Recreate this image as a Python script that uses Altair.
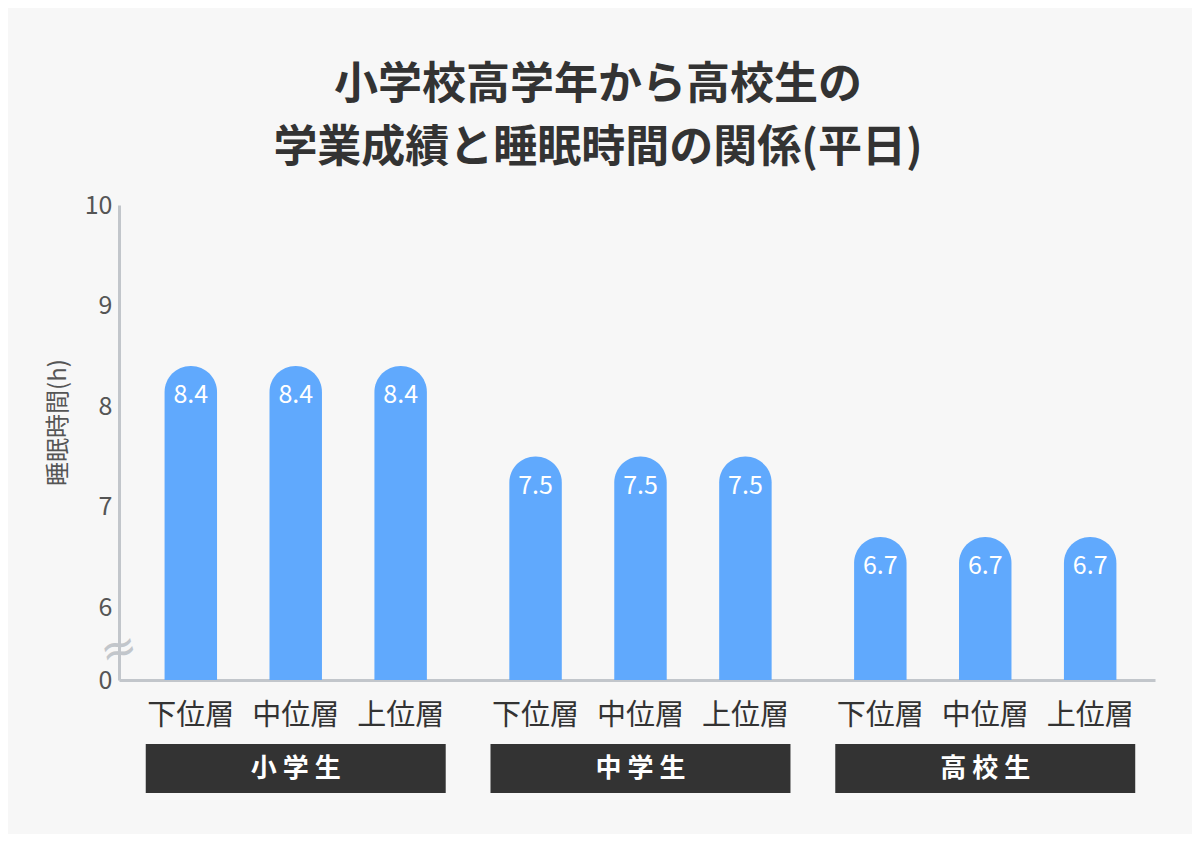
import altair as alt
import pandas as pd

groups = ["小学生", "中学生", "高校生"]
levels = ["下位層", "中位層", "上位層"]
values = [
    [8.4, 8.4, 8.4],
    [7.5, 7.5, 7.5],
    [6.7, 6.7, 6.7],
]
y_ticks = [10, 9, 8, 7, 6]
axis_floor = 5.28  # shown as "0" (broken axis)
break_pos = [5.58]

rows = []
for g, vals in zip(groups, values):
    for lv, v in zip(levels, vals):
        rows.append({"group": g, "level": lv, "value": v, "base": axis_floor})
df = pd.DataFrame(rows)
gdf = pd.DataFrame({"group": groups})
bdf = pd.DataFrame({"y": break_pos, "t": ["≈"]})

FONT = "Noto Sans CJK JP"
W, H = 1036, 475

xs = alt.Scale(domain=groups, paddingInner=0.087, paddingOuter=0.046, align=0.61)
xo = alt.Scale(domain=levels, paddingInner=0.5, paddingOuter=0.25)
ys = alt.Scale(domain=[axis_floor, 10], nice=False, zero=False)

x_enc = alt.X("group:N", scale=xs, sort=groups,
              axis=alt.Axis(labels=False, ticks=False, title=None,
                            domainColor="#c2c6cb", domainWidth=3))
y_axis = alt.Axis(values=[axis_floor] + y_ticks, ticks=False, grid=False,
                  labelExpr="datum.value < 5.5 ? '0' : format(datum.value, 'd')",
                  labelFont=FONT, labelFontSize=25, labelColor="#555555",
                  labelPadding=7, domainColor="#c2c6cb", domainWidth=3,
                  title="睡眠時間(h)", titleFont=FONT, titleFontSize=24,
                  titleFontWeight="normal", titleColor="#555555",
                  titleX=-61, titleY=217, titleAlign="center",
                  titleBaseline="middle", titleAngle=-90)

bars = alt.Chart(df).mark_bar(color="#60a9fd", cornerRadiusTopLeft=26,
                              cornerRadiusTopRight=26).encode(
    x=x_enc,
    xOffset=alt.XOffset("level:N", scale=xo, sort=levels),
    y=alt.Y("value:Q", scale=ys, axis=y_axis),
    y2="base:Q",
)

vlabels = alt.Chart(df).mark_text(color="white", font=FONT, fontSize=25,
                                  baseline="middle", dy=29).encode(
    x=x_enc,
    xOffset=alt.XOffset("level:N", scale=xo, sort=levels),
    y=alt.Y("value:Q", scale=ys),
    text=alt.Text("value:Q", format=".1f"),
)

lvl_labels = alt.Chart(df).mark_text(color="#333333", font=FONT, fontSize=29,
                                     baseline="middle").encode(
    x=x_enc,
    xOffset=alt.XOffset("level:N", scale=xo, sort=levels),
    y=alt.value(H + 36),
    text="level:N",
)

boxes = alt.Chart(gdf).mark_bar(color="#333333", width={"band": 0.953}).encode(
    x=x_enc,
    y=alt.value(H + 64),
    y2=alt.value(H + 113),
)

box_text = alt.Chart(gdf).transform_calculate(
    disp="join(split(datum.group, ''), ' ')"
).mark_text(color="white", font=FONT, fontSize=26, fontWeight="bold",
            baseline="middle").encode(
    x=x_enc,
    y=alt.value(H + 89),
    text="disp:N",
)

brk = alt.Chart(bdf).mark_text(color="#c2c6cb", font="DejaVu Sans", fontSize=44,
                               baseline="middle", align="center", angle=345).encode(
    x=alt.value(0),
    y=alt.Y("y:Q", scale=ys),
    text="t:N",
)

chart = alt.layer(bars, vlabels, lvl_labels, boxes, box_text, brk).properties(
    width=W, height=H,
    autosize=alt.AutoSizeParams(type="none"),
    padding={"left": 111, "top": 197, "right": 37, "bottom": 154},
    background="#f7f7f7",
    title=alt.TitleParams(
        text=["小学校高学年から高校生の", "学業成績と睡眠時間の関係(平日)"],
        font=FONT, fontSize=44, fontWeight="bold", color="#333333",
        anchor="middle", dx=-39, offset=22, lineHeight=63,
    ),
).configure_view(stroke=None)

chart.save("out.html", embed_options={"renderer": "svg", "actions": False})
